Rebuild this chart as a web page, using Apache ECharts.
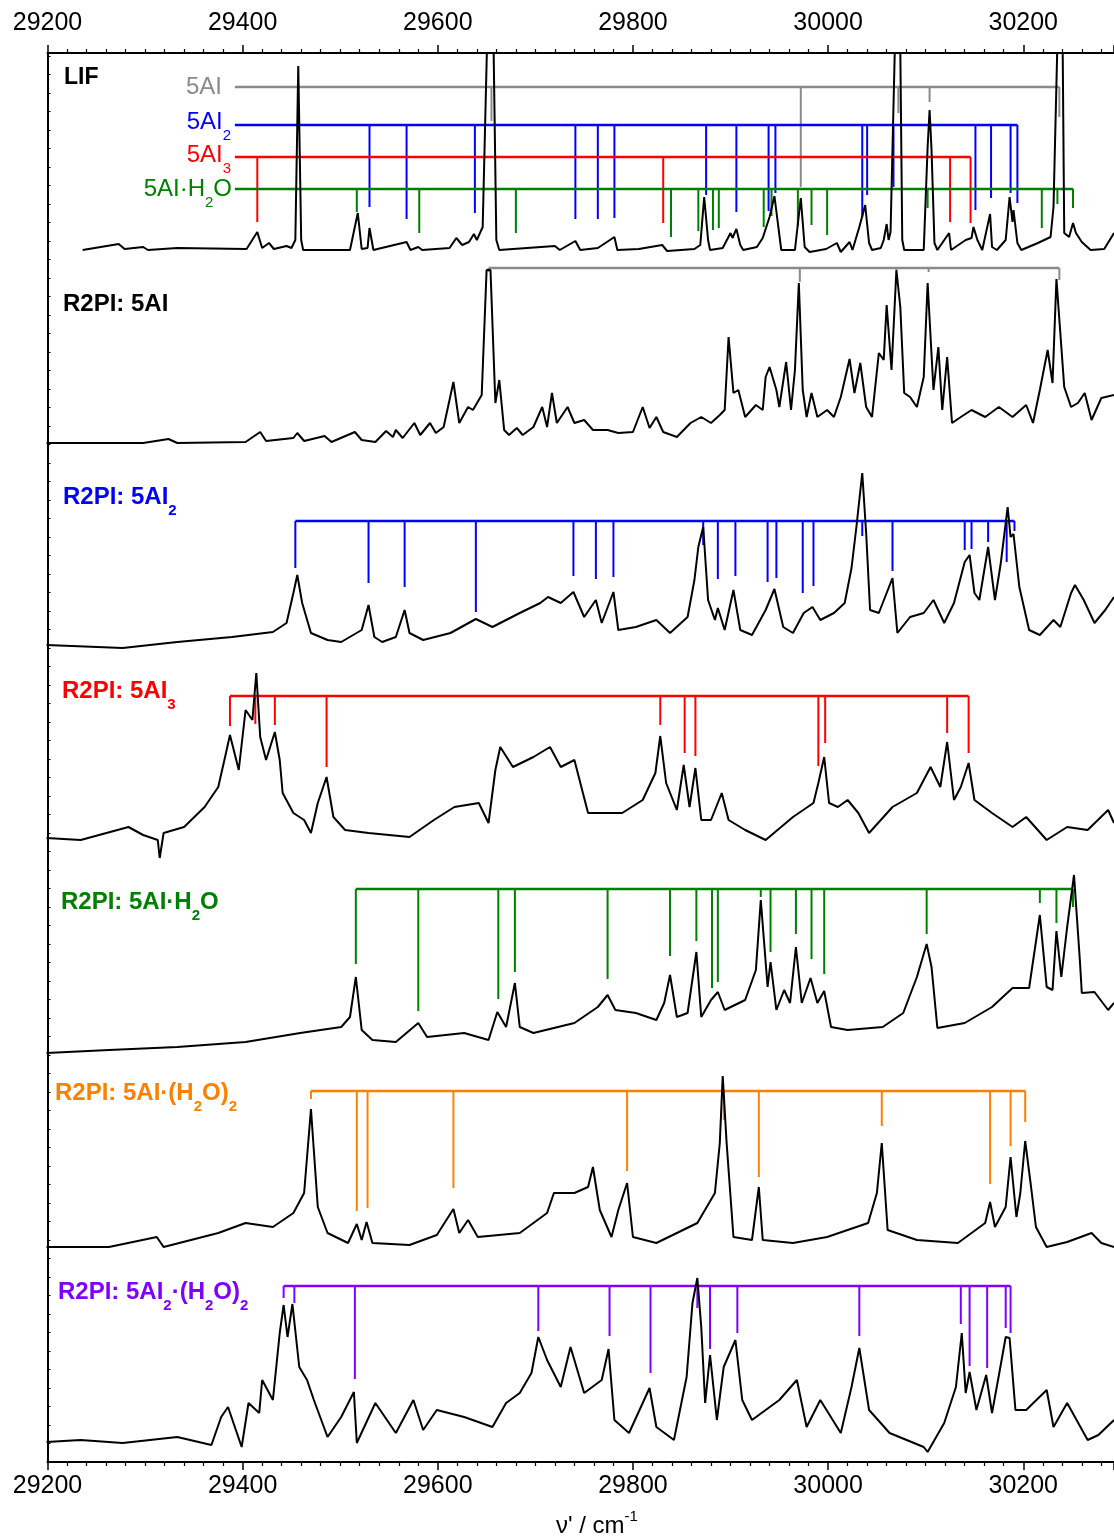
<!DOCTYPE html>
<html>
<head>
<meta charset="utf-8">
<title>LIF and R2PI spectra</title>
<script src="https://cdn.jsdelivr.net/npm/echarts@6/dist/echarts.min.js"></script>
<style>
html, body { margin: 0; padding: 0; background: #fff; }
#chart { width: 1114px; height: 1537px; }
</style>
</head>
<body>
<div id="chart"></div>
<script>
// ---- spectra: [wavenumber / cm-1, intensity (arb. units above each trace baseline)] ----
const lifTrace = [[29236,2],[29273,8],[29279,3],[29298,5],[29303,2],[29333,4],[29404,3],[29415,20],[29420,4],[29427,9],[29432,3],[29445,6],[29450,4],[29454,12],[29457,186],[29460,12],[29462,2],[29510,2],[29518,39],[29522,3],[29528,4],[29530,24],[29534,2],[29568,10],[29572,2],[29580,5],[29584,2],[29612,4],[29619,14],[29625,7],[29632,10],[29637,18],[29640,12],[29646,25],[29651.5,250],[29654,320],[29656.5,250],[29660,12],[29663,2],[29720,6],[29725,2],[29741,11],[29746,2],[29764,4],[29781,15],[29784,2],[29806,3],[29830,7],[29835,1],[29863,3],[29869,7],[29873,55],[29877,12],[29879,2],[29892,4],[29900,19],[29902,14],[29906,23],[29910,7],[29913,2],[29927,5],[29933,14],[29940,35],[29945,56],[29949,25],[29952,2],[29966,2],[29972,54],[29976,5],[29981,0],[29998,3],[30009,9],[30013,0],[30022,10],[30025,2],[30032,25],[30038,47],[30042,9],[30045,2],[30054,4],[30057,12],[30060,28],[30062,12],[30064,20],[30069.5,250],[30071.5,320],[30073.5,250],[30076,12],[30078,2],[30098,2],[30102,105],[30104,142],[30106,102],[30109,9],[30112,2],[30124,19],[30126,2],[30141,12],[30147,14],[30149,25],[30153,12],[30158,2],[30166,38],[30168,5],[30173,2],[30182,12],[30186,55],[30189,30],[30190,42],[30194,9],[30198,2],[30215,9],[30228,15],[30231,45],[30236,250],[30238,320],[30240,250],[30242,19],[30247,15],[30251,29],[30254,19],[30260,10],[30269,2],[30283,3],[30293,19]];

const r2pi5AI = [[29199,2],[29298,2],[29324,6],[29333,2],[29403,3],[29418,13],[29424,4],[29452,7],[29456,12],[29463,4],[29484,9],[29491,3],[29515,13],[29522,5],[29536,3],[29547,14],[29554,8],[29557,15],[29564,7],[29576,22],[29582,10],[29592,22],[29598,12],[29606,18],[29616,63],[29622,22],[29631,38],[29636,35],[29645,50],[29650,175],[29654,175],[29659,42],[29663,65],[29668,15],[29673,10],[29681,17],[29687,10],[29698,18],[29707,38],[29712,18],[29717,52],[29722,22],[29733,38],[29740,22],[29750,25],[29759,15],[29774,15],[29785,12],[29800,13],[29810,38],[29817,17],[29824,28],[29831,13],[29845,8],[29859,22],[29870,28],[29880,22],[29889,30],[29894,35],[29898,108],[29903,52],[29908,55],[29915,28],[29926,40],[29933,35],[29936,68],[29940,78],[29947,55],[29950,38],[29957,83],[29962,35],[29966,75],[29970,162],[29974,55],[29978,28],[29983,52],[29989,28],[29999,35],[30006,28],[30013,48],[30022,86],[30027,52],[30033,82],[30039,38],[30045,28],[30052,92],[30057,85],[30060,140],[30065,75],[30070,175],[30074,138],[30078,52],[30084,48],[30091,38],[30098,68],[30102,162],[30108,55],[30113,98],[30117,35],[30122,88],[30127,22],[30136,28],[30147,35],[30161,28],[30175,38],[30189,28],[30203,40],[30210,22],[30217,55],[30225,95],[30230,62],[30234,166],[30242,58],[30249,38],[30256,42],[30263,52],[30270,25],[30280,47],[30293,50]];

const r2pi5AI2 = [[29199,3],[29277,0],[29333,6],[29389,11],[29431,16],[29445,25],[29452,55],[29456,73],[29461,45],[29470,15],[29487,8],[29501,6],[29522,18],[29529,43],[29535,11],[29543,6],[29557,11],[29566,38],[29571,15],[29585,8],[29613,15],[29639,29],[29656,21],[29684,35],[29705,45],[29713,51],[29726,45],[29739,56],[29750,31],[29762,48],[29768,25],[29780,56],[29785,18],[29803,21],[29824,28],[29838,15],[29856,31],[29863,68],[29867,101],[29872,121],[29877,48],[29884,28],[29887,40],[29894,18],[29903,58],[29910,18],[29922,13],[29936,38],[29945,59],[29954,21],[29964,15],[29975,35],[29984,41],[29992,28],[30006,35],[30017,45],[30024,80],[30029,121],[30035,175],[30039,115],[30043,38],[30052,35],[30066,70],[30071,15],[30084,31],[30098,35],[30108,48],[30119,25],[30129,45],[30140,86],[30145,93],[30150,55],[30155,48],[30164,101],[30171,48],[30177,85],[30184,141],[30187,111],[30190,114],[30196,61],[30206,18],[30217,13],[30231,28],[30238,21],[30249,55],[30253,63],[30262,48],[30273,25],[30284,38],[30293,51]];

const r2pi5AI3 = [[29199,2],[29234,0],[29283,13],[29298,5],[29313,0],[29315,-18],[29319,7],[29340,13],[29361,33],[29375,53],[29382,83],[29387,105],[29396,70],[29403,130],[29410,120],[29414,167],[29418,103],[29424,80],[29433,108],[29438,80],[29441,47],[29452,27],[29463,20],[29470,7],[29477,37],[29486,63],[29493,23],[29505,10],[29529,7],[29571,3],[29596,20],[29617,33],[29642,37],[29652,17],[29659,70],[29664,93],[29677,73],[29698,83],[29715,93],[29726,73],[29740,80],[29754,27],[29789,27],[29810,40],[29823,67],[29828,104],[29834,57],[29845,30],[29852,75],[29858,33],[29864,72],[29870,20],[29880,20],[29891,47],[29898,20],[29915,10],[29936,0],[29964,23],[29985,37],[29990,57],[29996,83],[30001,37],[30010,33],[30020,40],[30031,27],[30042,7],[30066,33],[30091,47],[30105,73],[30115,53],[30122,98],[30129,40],[30136,53],[30144,77],[30150,40],[30168,27],[30189,13],[30203,23],[30224,0],[30245,13],[30266,10],[30287,30],[30293,17]];

const r2pi5AIH2O = [[29199,2],[29263,5],[29333,8],[29403,13],[29459,22],[29501,28],[29510,38],[29516,78],[29522,25],[29533,15],[29557,13],[29580,32],[29589,18],[29627,22],[29652,15],[29661,43],[29670,28],[29679,72],[29684,28],[29698,22],[29740,32],[29764,48],[29774,60],[29782,45],[29803,42],[29824,35],[29832,52],[29838,80],[29845,38],[29856,42],[29865,103],[29870,38],[29880,55],[29887,63],[29894,45],[29915,55],[29926,85],[29931,155],[29938,68],[29941,93],[29947,45],[29955,65],[29961,52],[29967,108],[29973,52],[29982,77],[29989,52],[29996,64],[30003,28],[30020,25],[30056,28],[30077,42],[30091,78],[30101,111],[30106,88],[30112,27],[30140,32],[30168,48],[30189,67],[30206,67],[30217,140],[30224,68],[30230,65],[30234,124],[30239,78],[30245,128],[30252,180],[30258,95],[30260,62],[30273,63],[30287,45],[30293,52]];

const r2pi5AIH2O2 = [[29199,5],[29263,5],[29312,15],[29319,5],[29375,19],[29403,29],[29431,25],[29452,39],[29463,59],[29470,143],[29477,45],[29487,19],[29508,9],[29517,28],[29522,12],[29527,30],[29533,9],[29571,7],[29599,17],[29616,43],[29622,19],[29631,32],[29641,15],[29684,19],[29712,39],[29719,59],[29740,59],[29754,65],[29759,85],[29766,42],[29778,15],[29785,42],[29794,69],[29800,15],[29824,9],[29866,29],[29884,59],[29889,109],[29892,176],[29896,109],[29903,15],[29922,12],[29929,65],[29933,12],[29964,9],[29999,15],[30041,29],[30050,59],[30055,109],[30061,22],[30091,12],[30133,9],[30161,29],[30166,50],[30171,25],[30182,45],[30187,95],[30193,35],[30197,59],[30202,111],[30208,65],[30213,25],[30224,5],[30245,10],[30270,19],[30280,9],[30293,5]];

const r2pi5AI2H2O2 = [[29199,8],[29234,10],[29277,7],[29333,13],[29368,5],[29378,33],[29385,43],[29399,3],[29406,47],[29417,37],[29420,70],[29431,50],[29438,117],[29442,145],[29446,113],[29451,146],[29458,83],[29466,70],[29473,50],[29487,13],[29501,33],[29514,58],[29517,7],[29536,47],[29557,17],[29575,50],[29585,20],[29599,40],[29627,33],[29656,23],[29670,47],[29684,57],[29696,77],[29703,113],[29712,90],[29726,63],[29736,103],[29750,57],[29768,70],[29775,101],[29781,30],[29796,17],[29817,62],[29824,23],[29842,10],[29855,73],[29861,147],[29866,172],[29870,123],[29874,47],[29879,95],[29886,30],[29893,83],[29905,110],[29912,50],[29922,30],[29950,50],[29968,70],[29978,23],[29992,50],[30013,17],[30024,63],[30032,102],[30042,40],[30063,17],[30098,3],[30102,-2],[30119,27],[30131,63],[30137,117],[30141,57],[30145,78],[30152,40],[30162,75],[30168,37],[30176,80],[30182,113],[30186,112],[30192,40],[30203,40],[30224,60],[30231,23],[30245,47],[30266,10],[30277,15],[30293,30]];

// ---- assignment combs: stick positions (cm-1) and the intensity level each stick reaches ----
const lif5AIPos = [29655, 29972, 30072, 30104, 30237];
const lif5AITip = [131, 65, 139, 150, 135];
const lif5AI2Pos = [29457, 29530, 29568, 29638, 29741, 29764, 29781, 29875, 29906, 29939, 29946, 30035, 30040, 30067, 30151, 30167, 30187, 30194];
const lif5AI2Tip = [122, 45, 33, 39, 33, 33, 34, 57, 40, 41, 59, 35, 57, 65, 42, 54, 59, 49];
const lif5AI3Pos = [29415, 29831, 30125, 30146];
const lif5AI3Tip = [30, 29, 30, 29];
const lifH2OPos = [29517, 29581, 29680, 29839, 29867, 29882, 29888, 29934, 29942, 29969, 29983, 29999, 30102, 30219, 30235, 30251];
const lifH2OTip = [40, 19, 19, 15, 21, 22, 24, 25, 36, 26, 27, 17, 44, 24, 48, 44];

const comb5AIPos = [29652, 29971, 30070, 30103, 30237];
const comb5AITip = [173, 163, 175, 173, 165];
const comb5AI2Pos = [29454, 29529, 29566, 29639, 29739, 29762, 29780, 29872, 29887, 29905, 29938, 29947, 29974, 29985, 30035, 30066, 30140, 30147, 30164, 30183, 30191];
const comb5AI2Tip = [80, 65, 61, 36, 72, 69, 71, 103, 69, 72, 66, 70, 55, 62, 112, 77, 98, 99, 106, 86, 117];
const comb5AI3Pos = [29387, 29413, 29433, 29486, 29828, 29853, 29864, 29990, 29997, 30122, 30144];
const comb5AI3Tip = [114, 116, 115, 73, 115, 87, 84, 74, 97, 107, 87];
const combH2OPos = [29516, 29580, 29662, 29679, 29774, 29838, 29865, 29881, 29887, 29931, 29941, 29967, 29983, 29996, 30101, 30217, 30234, 30251];
const combH2OTip = [91, 44, 56, 83, 76, 99, 114, 67, 73, 158, 103, 121, 96, 81, 121, 152, 132, 148];
const combH2O2Pos = [29470, 29517, 29528, 29616, 29794, 29893, 29929, 30055, 30166, 30187, 30202];
const combH2O2Tip = [153, 41, 44, 64, 81, 132, 75, 126, 68, 106, 130];
const comb5AI2H2O2Pos = [29442, 29453, 29515, 29703, 29776, 29818, 29866, 29879, 29907, 30032, 30136, 30145, 30163, 30182, 30187];
const comb5AI2H2O2Tip = [152, 147, 71, 119, 114, 77, 142, 101, 117, 114, 126, 84, 82, 122, 117];

// ---- layout ----
const FONT = '"Liberation Sans", Arial, Helvetica, sans-serif';
const GRAY = '#8a8a8a', BLUE = '#0000ff', RED = '#ff0000', GREEN = '#008000', ORANGE = '#ff8000', PURPLE = '#8000ff';
// y axis is in pixels of the plot (0 = bottom); each trace sits on its own offset
const OFF = { lif: 1210, ai: 1017, ai2: 814, ai3: 622, h2o: 407, h2o2: 210, ai2h2o2: 12 };
const LIF_BAR_START = 29392;

const series = [];

function trace(data, offset) {
	series.push({
		type: 'line', data: data.map(p => [p[0], p[1] + offset]),
		symbol: 'none', silent: true, z: 5,
		lineStyle: { color: '#000', width: 2 }
	});
}

function comb(color, pos, tips, level, offset, start) {
	const lvl = level + offset;
	const x0 = start !== undefined ? start : Math.min(...pos);
	series.push({
		type: 'line', data: [[x0, lvl], [Math.max(...pos), lvl]],
		symbol: 'none', silent: true, z: 3,
		lineStyle: { color: color, width: 2.5 }
	});
	series.push({
		type: 'custom', silent: true, z: 3,
		data: pos.map((v, i) => [v, tips[i] + offset]),
		renderItem: function (params, api) {
			const a = api.coord([api.value(0), lvl]);
			const b = api.coord([api.value(0), api.value(1)]);
			return { type: 'line', shape: { x1: a[0], y1: a[1], x2: b[0], y2: b[1] },
				style: { stroke: color, lineWidth: 2 } };
		}
	});
}

comb(GRAY, lif5AIPos, lif5AITip, 165, OFF.lif, LIF_BAR_START);
comb(BLUE, lif5AI2Pos, lif5AI2Tip, 127, OFF.lif, LIF_BAR_START);
comb(RED, lif5AI3Pos, lif5AI3Tip, 95, OFF.lif, LIF_BAR_START);
comb(GREEN, lifH2OPos, lifH2OTip, 63, OFF.lif, LIF_BAR_START);
comb(GRAY, comb5AIPos, comb5AITip, 177, OFF.ai);
comb(BLUE, comb5AI2Pos, comb5AI2Tip, 127, OFF.ai2);
comb(RED, comb5AI3Pos, comb5AI3Tip, 144, OFF.ai3);
comb(GREEN, combH2OPos, combH2OTip, 166, OFF.h2o);
comb(ORANGE, combH2O2Pos, combH2O2Tip, 161, OFF.h2o2);
comb(PURPLE, comb5AI2H2O2Pos, comb5AI2H2O2Tip, 164, OFF.ai2h2o2);

trace(lifTrace, OFF.lif);
trace(r2pi5AI, OFF.ai);
trace(r2pi5AI2, OFF.ai2);
trace(r2pi5AI3, OFF.ai3);
trace(r2pi5AIH2O, OFF.h2o);
trace(r2pi5AIH2O2, OFF.h2o2);
trace(r2pi5AI2H2O2, OFF.ai2h2o2);

// ---- text with sub/superscripts, laid out piece by piece ----
const measureCtx = document.createElement('canvas').getContext('2d');
function label(parts, x, y, color, size, bold, align) {
	const w = bold ? 'bold ' : '';
	const big = w + size + 'px ' + FONT;
	const small = w + Math.round(size * 0.64) + 'px ' + FONT;
	const widths = parts.map(p => { measureCtx.font = p[1] === 'n' ? big : small; return measureCtx.measureText(p[0]).width; });
	let cx = align === 'right' ? x - widths.reduce((a, b) => a + b, 0) : x;
	return parts.map((p, i) => {
		const dy = p[1] === 'sub' ? size * 0.58 : (p[1] === 'sup' ? -size * 0.4 : 0);
		const el = { type: 'text', x: cx, y: y + dy, z: 10, silent: true,
			style: { text: p[0], font: p[1] === 'n' ? big : small, fill: color, align: 'left', verticalAlign: 'middle' } };
		cx += widths[i];
		return el;
	});
}

const texts = [].concat(
	label([['LIF', 'n']], 64, 78, '#000', 23, true),
	label([['5AI', 'n']], 222, 87, GRAY, 24, false, 'right'),
	label([['5AI', 'n'], ['2', 'sub']], 231, 122, BLUE, 24, false, 'right'),
	label([['5AI', 'n'], ['3', 'sub']], 231, 155, RED, 24, false, 'right'),
	label([['5AI\u00b7H', 'n'], ['2', 'sub'], ['O', 'n']], 232, 189, GREEN, 24, false, 'right'),
	label([['R2PI: 5AI', 'n']], 63, 304, '#000', 24, true),
	label([['R2PI: 5AI', 'n'], ['2', 'sub']], 63, 497, BLUE, 24, true),
	label([['R2PI: 5AI', 'n'], ['3', 'sub']], 62, 691, RED, 24, true),
	label([['R2PI: 5AI\u00b7H', 'n'], ['2', 'sub'], ['O', 'n']], 61, 902, GREEN, 24, true),
	label([['R2PI: 5AI\u00b7(H', 'n'], ['2', 'sub'], ['O)', 'n'], ['2', 'sub']], 55, 1093, ORANGE, 24, true),
	label([['R2PI: 5AI', 'n'], ['2', 'sub'], ['\u00b7(H', 'n'], ['2', 'sub'], ['O)', 'n'], ['2', 'sub']], 58, 1292, PURPLE, 24, true),
	label([['\u03bd\' / cm', 'n'], ['-1', 'sup']], 556, 1526, '#000', 24, false)
);

const xAxisBase = {
	type: 'value', min: 29200, max: 30293, interval: 200,
	axisLine: { show: true, lineStyle: { color: '#000', width: 2 } },
	axisTick: { show: true, inside: false, length: 8, lineStyle: { color: '#000', width: 1.5 } },
	minorTick: { show: true, splitNumber: 10, length: 4, lineStyle: { color: '#000', width: 1.2 } },
	splitLine: { show: false },
	axisLabel: { color: '#000', fontSize: 25, fontFamily: FONT, showMaxLabel: false, formatter: v => String(v) }
};

const option = {
	animation: false,
	backgroundColor: '#fff',
	grid: { left: 47.5, right: 0, top: 53, bottom: 75 },
	xAxis: [
		Object.assign({}, xAxisBase, { position: 'bottom', axisLabel: Object.assign({}, xAxisBase.axisLabel, { margin: 12 }) }),
		Object.assign({}, xAxisBase, { position: 'top', axisLabel: Object.assign({}, xAxisBase.axisLabel, { margin: 17 }) })
	],
	yAxis: {
		type: 'value', min: 0, max: 1409, interval: 18.5,
		axisLine: { show: true, lineStyle: { color: '#000', width: 2 } },
		axisTick: { show: true, inside: true, length: 3, lineStyle: { color: '#000', width: 1 } },
		axisLabel: { show: false },
		splitLine: { show: false }
	},
	graphic: { elements: texts },
	series: series
};

const myChart = echarts.init(document.getElementById('chart'));
myChart.setOption(option);
</script>
</body>
</html>
